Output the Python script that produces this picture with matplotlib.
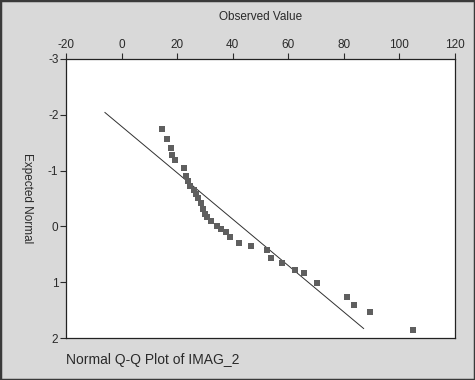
# Normal Q-Q plot of IMAG_2 (SPSS style, drawn upside down like the reference)
import numpy as np
import matplotlib
matplotlib.use('Agg')
import matplotlib.pyplot as plt
from matplotlib.patches import Rectangle

observed = [14.4, 16.5, 17.6, 18.3, 19.1, 22.3, 23.2, 23.9, 24.6, 26.1,
            26.9, 27.4, 28.5, 29.3, 30.0, 30.9, 32.1, 34.5, 35.9, 37.5,
            38.9, 42.4, 46.4, 52.2, 53.6, 57.8, 62.5, 65.8, 70.4, 81.1,
            83.6, 89.5, 104.8]
expected = [-1.75, -1.56, -1.40, -1.28, -1.18, -1.04, -0.91, -0.82, -0.73, -0.66,
            -0.58, -0.51, -0.41, -0.32, -0.23, -0.16, -0.09, -0.01, 0.05, 0.10,
            0.19, 0.30, 0.36, 0.43, 0.56, 0.66, 0.78, 0.84, 1.02, 1.27,
            1.40, 1.54, 1.86]
# reference line end points
line_x = [-6.0, 87.1]
line_y = [-2.04, 1.83]

x_ticks = [-20, 0, 20, 40, 60, 80, 100, 120]
y_ticks = [-3, -2, -1, 0, 1, 2]

plt.rcParams['font.family'] = ['Liberation Sans', 'DejaVu Sans']
plt.rcParams['axes.unicode_minus'] = False

fig = plt.figure(figsize=(4.75, 3.8), dpi=100)
fig.patch.set_facecolor('#d9d9d9')
fig.patches.append(Rectangle((0, 0), 1, 1, transform=fig.transFigure,
                             fill=False, edgecolor='#3a3a3a', linewidth=2.5))

ax = fig.add_axes([0.139, 0.1105, 0.819, 0.7345])
ax.set_facecolor('white')

ax.plot(line_x, line_y, color='#303030', linewidth=0.7)
ax.plot(observed, expected, 's', color='#5f5f5f', markersize=5, markeredgewidth=0)

ax.set_xlim(-20, 120)
ax.set_ylim(2, -3)
ax.set_xticks(x_ticks)
ax.set_yticks(y_ticks)
ax.xaxis.tick_top()
ax.xaxis.set_label_position('top')
ax.tick_params(direction='out', length=4, width=0.8, labelsize=8.5,
               colors='#2a2a2a', pad=1.5)
for s in ax.spines.values():
    s.set_linewidth(0.9)
    s.set_color('#222222')

ax.set_xlabel('Observed Value', fontsize=8.5, color='#2a2a2a', labelpad=14)
ax.set_ylabel('Expected Normal', fontsize=8.5, color='#2a2a2a',
              rotation=270, labelpad=12, va='center')
ax.yaxis.set_label_coords(-0.1, 0.5)

fig.text(0.139, 0.053, 'Normal Q-Q Plot of IMAG_2', fontsize=10,
         color='#2a2a2a', ha='left', va='center')

plt.savefig('out.png', dpi=100, facecolor=fig.get_facecolor())
plt.close()
